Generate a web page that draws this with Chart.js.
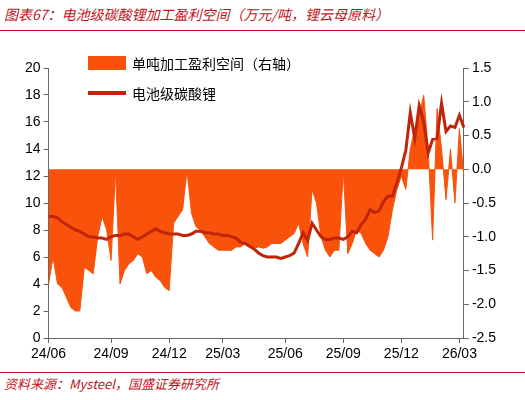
<!DOCTYPE html>
<html><head><meta charset="utf-8">
<script src="https://cdn.jsdelivr.net/npm/chart.js@4"></script>
<style>
body{margin:0;width:525px;height:400px;background:#fff;font-family:"Noto Sans CJK SC",sans-serif;position:relative;overflow:hidden}
#title{position:absolute;left:4px;top:4px;font-size:14px;color:#C0141C;font-style:italic}
#src{position:absolute;left:4px;top:374px;font-size:13px;color:#C0141C;font-style:italic}
.hr{position:absolute;left:0;width:525px;height:1px;background:#C0141C}
#box{position:absolute;left:0;top:48px;width:525px;height:314px}
#leg{position:absolute;left:88px;top:48px;font-size:14px;color:#000}
#leg div{display:flex;align-items:center;height:30px}
#leg span.s{display:inline-block;width:38px;margin-right:6px}
</style></head><body>
<div id="title">图表67：电池级碳酸锂加工盈利空间（万元/吨，锂云母原料）</div>
<div class="hr" style="top:30px"></div>
<div id="box"><canvas id="c"></canvas></div>
<div id="leg">
<div><span class="s" style="height:14px;background:#F9530B"></span>单吨加工盈利空间（右轴）</div>
<div><span class="s" style="height:4px;background:#C0250A"></span>电池级碳酸锂</div>
</div>
<div class="hr" style="top:372px"></div>
<div id="src">资料来源：Mysteel，国盛证券研究所</div>
<script>
const startDate = new Date(2024, 5, 1);
const weekCount = 94;
const weekDates = [];
for (let k = 0; k < weekCount; k++) weekDates.push(new Date(startDate.getTime() + k * 7 * 86400000));
const categories = weekDates.map(d => String(d.getFullYear() % 100) + '/' + String(d.getMonth() + 1).padStart(2, '0') + '/' + String(d.getDate()).padStart(2, '0'));

// 电池级碳酸锂（万元/吨，左轴）
const priceValues = [9.0,9.0,8.9,8.6,8.4,8.2,8.0,7.9,7.7,7.5,7.5,7.4,7.4,7.3,7.5,7.6,7.6,7.7,7.7,7.5,
7.3,7.5,7.7,7.9,8.1,7.9,7.8,7.7,7.7,7.7,7.6,7.6,7.7,7.9,7.9,7.8,7.8,7.7,7.7,7.6,
7.6,7.5,7.4,7.1,7.0,6.8,6.6,6.3,6.1,6.0,6.0,6.0,5.9,6.0,6.1,6.3,7.0,7.8,7.2,8.5,
8.0,7.5,7.3,7.3,7.4,7.4,7.3,7.5,7.9,7.8,8.4,8.8,9.5,9.3,9.4,10.1,10.5,10.5,11.5,12.6,
13.9,16.7,14.8,17.2,16.0,13.7,14.7,14.8,17.4,15.3,15.7,15.6,16.5,15.6];
// 单吨加工盈利空间（万元/吨，右轴）
const marginValues = [-1.7,-1.3,-1.7,-1.75,-1.9,-2.05,-2.1,-2.1,-1.45,-1.5,-1.55,-1.0,-0.7,-0.9,-1.35,-0.02,-1.7,-1.5,-1.4,-1.35,
-1.25,-1.3,-1.55,-1.5,-1.6,-1.65,-1.75,-1.8,-0.8,-0.7,-0.6,-0.02,-0.65,-0.85,-0.9,-1.0,-1.1,-1.15,-1.2,-1.2,
-1.2,-1.2,-1.15,-1.15,-1.1,-1.15,-1.17,-1.15,-1.17,-1.15,-1.1,-1.1,-1.1,-1.05,-1.0,-0.95,-0.8,-1.1,-1.3,-0.3,
-0.5,-1.0,-1.2,-1.3,-1.2,-1.2,-0.02,-1.25,-1.1,-0.9,-0.95,-1.1,-1.2,-1.25,-1.3,-1.2,-1.0,-0.6,-0.3,-0.1,
-0.3,0.3,0.6,0.8,1.1,0.3,-1.05,0.9,0.3,-0.45,0.3,-0.5,0.6,-0.1];
const leftTicks = [0, 20, 2];
const rightTicks = [-2.5, 1.5, 0.5];
const tickMonths = [3, 6, 9, 12];

function tickLabel(i) {
  const d = weekDates[i];
  if (tickMonths.includes(d.getMonth() + 1) && d.getDate() <= 7) return categories[i].slice(0, 5);
  return '';
}

new Chart(document.getElementById('c'), {
  data: {
    labels: categories,
    datasets: [
      { type: 'line', data: priceValues, yAxisID: 'y', borderColor: '#C0250A', borderWidth: 3, pointRadius: 0, tension: 0, order: 0 },
      { type: 'line', data: marginValues, yAxisID: 'y1', borderColor: '#F9530B', backgroundColor: '#F9530B', borderWidth: 1, fill: 'origin', pointRadius: 0, tension: 0, order: 1 },
    ],
  },
  options: {
    responsive: true,
    maintainAspectRatio: false,
    animation: false,
    layout: { padding: { left: 22, right: 26, top: 20, bottom: 0 } },
    plugins: { legend: { display: false }, tooltip: { enabled: false } },
    scales: {
      x: {
        offset: false,
        afterFit: (s) => { s.height = 24; },
        grid: { drawOnChartArea: false, color: (c) => tickLabel(c.index) ? '#666' : 'transparent', tickLength: 5 },
        border: { color: '#666' },
        ticks: { autoSkip: false, maxRotation: 0, color: '#000', font: { size: 14 }, callback: (v, i) => tickLabel(i) },
      },
      y: {
        min: leftTicks[0], max: leftTicks[1],
        grid: { drawOnChartArea: false, color: '#666', tickLength: 5 },
        border: { color: '#666' },
        ticks: { stepSize: leftTicks[2], color: '#000', font: { size: 14 } },
      },
      y1: {
        position: 'right', min: rightTicks[0], max: rightTicks[1],
        grid: { drawOnChartArea: false, color: '#666', tickLength: 5 },
        border: { color: '#666' },
        ticks: { stepSize: rightTicks[2], color: '#000', font: { size: 14 }, callback: (v) => v.toFixed(1) },
      },
    },
  },
});
</script>
</body></html>
